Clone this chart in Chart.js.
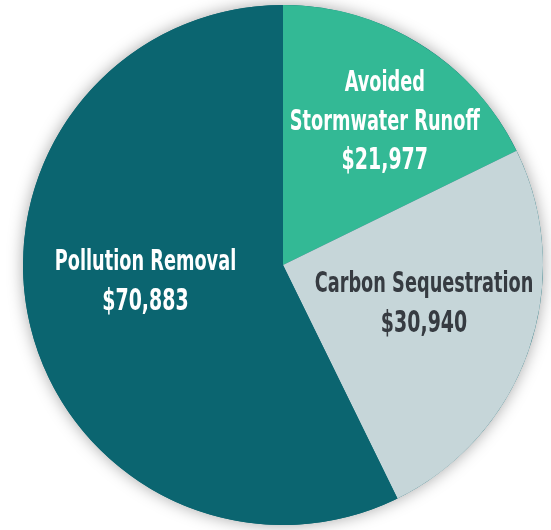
<!DOCTYPE html>
<html>
<head>
<meta charset="utf-8">
<script src="https://cdn.jsdelivr.net/npm/chart.js@4.4.1/dist/chart.umd.min.js"></script>
<style>
  html, body { margin: 0; padding: 0; background: #ffffff; }
  #wrap { width: 551px; height: 530px; }
</style>
</head>
<body>
<div id="wrap"><canvas id="c" width="551" height="530"></canvas></div>
<script>
const categories = [["Avoided", "Stormwater Runoff"], ["Carbon Sequestration"], ["Pollution Removal"]];
const values = [21977, 30940, 70883];
const sliceColors = ["#33b995", "#c6d6d9", "#0b6570"];
const labelColors = ["#ffffff", "#363b41", "#ffffff"];
// label placement: fraction of radius, angle nudge (degrees)
const labelRadius = [0.675, 0.563, 0.533];
const labelNudge = [3.5, -3.4, 6];

const fmt = v => "$" + v.toLocaleString("en-US");

const shadowPlugin = {
  id: "shadow",
  beforeDatasetsDraw(chart) {
    const arc = chart.getDatasetMeta(0).data[0];
    if (!arc) return;
    const ctx = chart.ctx;
    ctx.save();
    ctx.shadowColor = "rgba(0,0,0,0.35)";
    ctx.shadowBlur = 16;
    ctx.fillStyle = "#0b6570";
    ctx.beginPath();
    ctx.arc(arc.x, arc.y, arc.outerRadius, 0, Math.PI * 2);
    ctx.fill();
    ctx.restore();
  }
};

const labelPlugin = {
  id: "sliceLabels",
  afterDatasetsDraw(chart) {
    const ctx = chart.ctx;
    const meta = chart.getDatasetMeta(0);
    meta.data.forEach((arc, i) => {
      const mid = (arc.startAngle + arc.endAngle) / 2 + labelNudge[i] * Math.PI / 180;
      const r = arc.outerRadius * labelRadius[i];
      const cx = arc.x + Math.cos(mid) * r;
      const cy = arc.y + Math.sin(mid) * r;
      const lines = categories[i].map(t => ({ t, size: 29 }));
      lines.push({ t: fmt(values[i]), size: 31 });
      const lh = 39;
      const top = cy - (lines.length - 1) * lh / 2;
      ctx.save();
      ctx.fillStyle = labelColors[i];
      ctx.textAlign = "center";
      ctx.textBaseline = "middle";
      lines.forEach((ln, k) => {
        ctx.save();
        ctx.translate(cx, top + k * lh);
        ctx.scale(0.68, 1);
        ctx.font = "bold " + ln.size + "px 'DejaVu Sans Condensed', 'Liberation Sans Narrow', sans-serif";
        ctx.fillText(ln.t, 0, 0);
        ctx.restore();
      });
      ctx.restore();
    });
  }
};

new Chart(document.getElementById("c"), {
  type: "pie",
  data: {
    labels: categories.map(c => c.join(" ")),
    datasets: [{
      data: values,
      backgroundColor: sliceColors,
      borderWidth: 0
    }]
  },
  options: {
    responsive: false,
    animation: false,
    layout: { padding: { top: 5, bottom: 5, left: 15, right: 0 } },
    plugins: { legend: { display: false }, tooltip: { enabled: false } }
  },
  plugins: [shadowPlugin, labelPlugin]
});
</script>
</body>
</html>
